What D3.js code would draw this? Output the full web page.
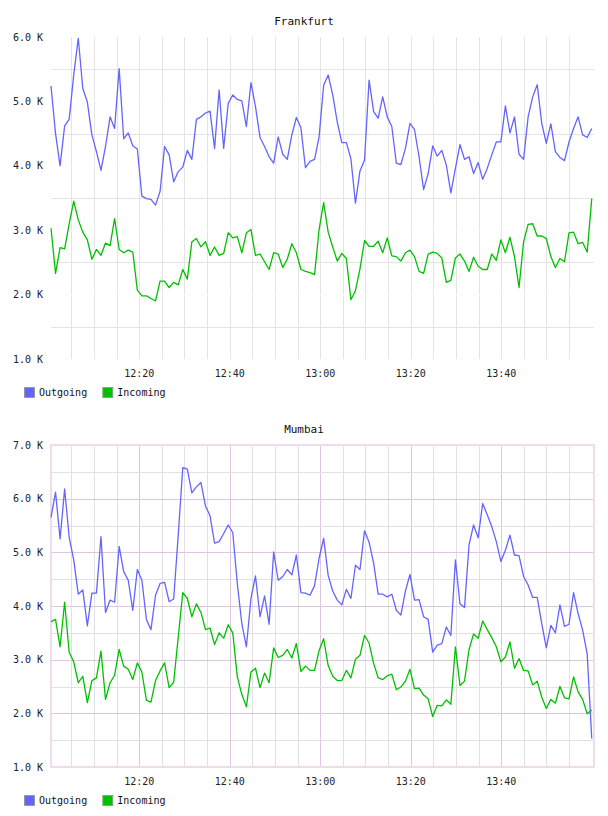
<!DOCTYPE html>
<html>
<head>
<meta charset="utf-8">
<script src="https://cdn.jsdelivr.net/npm/d3@7"></script>
<style>
    body { margin: 0; background: #fff; }
    text { font-family: "DejaVu Sans Mono", monospace; }
</style>
</head>
<body>
<div id="chart-area"></div>
<script>
// Traffic in K, one sample per minute (12:00 - 14:00)
const frankfurtOutgoing = [
    5.24, 4.50, 4.00, 4.62, 4.72, 5.41, 5.98, 5.20, 4.99, 4.48,
    4.22, 3.93, 4.30, 4.76, 4.58, 5.51, 4.42, 4.51, 4.31, 4.26,
    3.53, 3.49, 3.48, 3.39, 3.60, 4.30, 4.17, 3.75, 3.91, 3.98,
    4.24, 4.10, 4.72, 4.76, 4.82, 4.85, 4.27, 5.18, 4.27, 4.97,
    5.10, 5.03, 5.01, 4.61, 5.29, 4.92, 4.44, 4.30, 4.14, 4.04,
    4.45, 4.18, 4.10, 4.48, 4.75,
    4.59, 3.97, 4.07, 4.10, 4.45, 5.25, 5.41, 5.10, 4.68, 4.36,
    4.36, 4.11, 3.42, 3.92, 4.09, 5.33, 4.84, 4.74, 5.07, 4.76,
    4.61, 4.04, 4.02, 4.27, 4.66, 4.56, 4.14, 3.63, 3.88, 4.31,
    4.15, 4.24, 4.01, 3.58, 3.96, 4.33, 4.10, 4.14, 3.88, 4.05,
    3.79, 3.96, 4.17, 4.37, 4.37, 4.93, 4.51, 4.76, 4.18, 4.10,
    4.76, 5.07, 5.26, 4.66, 4.35, 4.65, 4.22, 4.13, 4.08, 4.37,
    4.58, 4.76, 4.48, 4.44, 4.58
];
const frankfurtIncoming = [
    3.03, 2.33, 2.73, 2.71, 3.10, 3.45, 3.16, 2.97, 2.85, 2.55,
    2.70, 2.61, 2.80, 2.76, 3.18, 2.70, 2.65, 2.69, 2.66, 2.07,
    1.98, 1.98, 1.94, 1.90, 2.21, 2.21, 2.11, 2.19, 2.15, 2.39,
    2.24, 2.82, 2.87, 2.74, 2.82, 2.61, 2.74, 2.61, 2.64, 2.96,
    2.88, 2.90, 2.65, 2.96, 3.01, 2.61, 2.63, 2.51, 2.39, 2.65,
    2.63, 2.42, 2.55, 2.79, 2.65,
    2.39, 2.36, 2.34, 2.31, 3.01, 3.43, 2.97, 2.74, 2.52, 2.64,
    2.56, 1.92, 2.06, 2.40, 2.84, 2.75, 2.75, 2.83, 2.65, 2.88,
    2.60, 2.59, 2.52, 2.65, 2.69, 2.59, 2.36, 2.33, 2.63, 2.66,
    2.64, 2.57, 2.19, 2.22, 2.57, 2.63, 2.52, 2.36, 2.58, 2.44,
    2.39, 2.39, 2.63, 2.53, 2.85, 2.65, 2.89, 2.59, 2.11, 2.82,
    3.09, 3.10, 2.91, 2.91, 2.87, 2.59, 2.42, 2.56, 2.51, 2.96,
    2.97, 2.79, 2.81, 2.66, 3.49
];
const mumbaiOutgoing = [
    5.65, 6.12, 5.25, 6.18, 5.28, 4.86, 4.22, 4.30, 3.63, 4.24,
    4.24, 5.29, 3.88, 4.11, 4.07, 5.11, 4.64, 4.48, 3.92, 4.68,
    4.48, 3.75, 3.56, 4.20, 4.42, 4.44, 4.08, 4.13, 5.32, 6.58,
    6.55, 6.11, 6.22, 6.30, 5.86, 5.68, 5.17, 5.20, 5.35, 5.51,
    5.37, 4.42, 3.67, 3.24, 4.14, 4.56, 3.80, 4.19, 3.66, 5.01,
    4.48, 4.55, 4.68, 4.58, 4.95,
    4.25, 4.24, 4.20, 4.38, 4.89, 5.26, 4.57, 4.28, 4.11, 4.02,
    4.31, 4.14, 4.76, 4.68, 5.40, 5.19, 4.80, 4.22, 4.22, 4.17,
    4.22, 3.92, 3.83, 4.28, 4.59, 4.11, 4.12, 3.80, 3.75, 3.14,
    3.27, 3.30, 3.61, 3.45, 4.86, 4.04, 3.97, 5.14, 5.51, 5.27,
    5.91, 5.70, 5.48, 5.20, 4.83, 5.04, 5.32, 4.95, 4.94, 4.55,
    4.39, 4.16, 4.16, 3.67, 3.22, 3.64, 3.50, 4.02, 3.62, 3.66,
    4.25, 3.86, 3.55, 3.11, 1.53
];
const mumbaiIncoming = [
    3.71, 3.75, 3.24, 4.07, 3.14, 2.96, 2.57, 2.69, 2.20, 2.61,
    2.66, 3.16, 2.26, 2.57, 2.71, 3.19, 2.88, 2.82, 2.63, 2.94,
    2.77, 2.24, 2.21, 2.61, 2.79, 2.94, 2.48, 2.58, 3.42, 4.25,
    4.14, 3.80, 4.04, 3.88, 3.56, 3.59, 3.28, 3.50, 3.40, 3.65,
    3.50, 2.68, 2.35, 2.12, 2.77, 2.84, 2.48, 2.75, 2.57, 3.22,
    3.04, 3.08, 3.19, 3.03, 3.30,
    2.78, 2.88, 2.80, 2.80, 3.17, 3.39, 2.89, 2.69, 2.61, 2.61,
    2.80, 2.66, 3.01, 3.08, 3.45, 3.31, 2.93, 2.66, 2.63, 2.70,
    2.73, 2.44, 2.49, 2.60, 2.82, 2.46, 2.47, 2.34, 2.27, 1.94,
    2.15, 2.14, 2.25, 2.17, 3.24, 2.52, 2.60, 3.19, 3.48, 3.40,
    3.72, 3.56, 3.41, 3.24, 2.96, 3.05, 3.33, 2.84, 3.02, 2.80,
    2.79, 2.53, 2.60, 2.30, 2.09, 2.26, 2.19, 2.50, 2.29, 2.27,
    2.68, 2.40, 2.26, 1.99, 2.06
];
const seriesNames = ["Outgoing", "Incoming"];
const seriesColors = ["#6464ff", "#00c000"];

// time window of the x axis and of the samples
const domainStart = new Date(2015, 0, 1, 12, 0, 30);
const domainEnd = new Date(2015, 0, 1, 14, 0, 30);
const sampleStart = new Date(2015, 0, 1, 12, 0, 30);
const sampleEnd = new Date(2015, 0, 1, 14, 0, 0);

let margin = {left: 51, right: 14};
let width = 608 - margin.left - margin.right;
let height = 322;

const svg = d3.select("div#chart-area").append("svg")
    .attr("width", 608)
    .attr("height", 816);

function toPoints(values) {
    const step = (sampleEnd - sampleStart) / (values.length - 1);
    return values.map((v, i) => ({t: new Date(+sampleStart + i * step), v: v}));
}

// grid: {vMajor, hMajor, minor, border}
function drawPanel(top, title, outgoing, incoming, yMax, grid) {
    const g = svg.append("g")
        .attr("transform", "translate(" + margin.left + "," + top + ")");

    const x = d3.scaleTime().domain([domainStart, domainEnd]).range([0, width]);
    const y = d3.scaleLinear().domain([1, yMax]).range([height, 0]);

    // vertical grid every 5 minutes, stronger every 20
    const minuteTicks = x.ticks(d3.timeMinute.every(5))
        .filter(t => x(t) > 4 && x(t) < width - 4);
    g.selectAll(".vgrid")
        .data(minuteTicks)
        .enter().append("line")
        .attr("x1", d => Math.round(x(d)) + 0.5)
        .attr("x2", d => Math.round(x(d)) + 0.5)
        .attr("y1", 0)
        .attr("y2", height)
        .style("stroke", d => d.getMinutes() % 20 === 0 ? grid.vMajor : grid.minor);

    // horizontal grid every 0.5 K
    const halfTicks = d3.range(2, yMax * 2).map(d => d / 2);
    g.selectAll(".hgrid")
        .data(halfTicks)
        .enter().append("line")
        .attr("x1", 0)
        .attr("x2", width)
        .attr("y1", d => Math.round(y(d)) + 0.5)
        .attr("y2", d => Math.round(y(d)) + 0.5)
        .style("stroke", d => d % 1 === 0 ? grid.hMajor : grid.minor);

    if (grid.border) {
        g.append("rect")
            .attr("x", 0).attr("y", 0)
            .attr("width", width).attr("height", height)
            .style("fill", "none")
            .style("stroke", grid.border)
            .style("stroke-width", 2);
    }

    // y labels
    g.selectAll(".ylabel")
        .data(y.ticks(yMax - 1))
        .enter().append("text")
        .attr("x", -8)
        .attr("y", d => y(d))
        .attr("dy", "0.35em")
        .attr("text-anchor", "end")
        .style("font-size", "10px")
        .style("fill", "#222")
        .text(d => d.toFixed(1) + " K");

    // x labels
    const labelTicks = x.ticks(d3.timeMinute.every(20))
        .filter(t => x(t) > 4 && x(t) < width - 4);
    g.selectAll(".xlabel")
        .data(labelTicks)
        .enter().append("text")
        .attr("x", d => x(d))
        .attr("y", height + 14.5)
        .attr("dy", "0.35em")
        .attr("text-anchor", "middle")
        .style("font-size", "10px")
        .style("fill", "#222")
        .text(d => d3.timeFormat("%H:%M")(d));

    // title
    g.append("text")
        .attr("x", 304 - margin.left)
        .attr("y", -16)
        .attr("dy", "0.35em")
        .attr("text-anchor", "middle")
        .style("font-size", "11px")
        .style("fill", "#111")
        .text(title);

    const line = d3.line()
        .x(d => x(d.t))
        .y(d => y(d.v));

    [outgoing, incoming].forEach((values, i) => {
        g.append("path")
            .datum(toPoints(values))
            .attr("d", line)
            .style("fill", "none")
            .style("stroke", seriesColors[i])
            .style("stroke-width", 1.3)
            .style("stroke-linejoin", "round");
    });

    // legend
    const legendX = [-27, 51.3];
    seriesNames.forEach((name, i) => {
        g.append("rect")
            .attr("x", legendX[i] + 0.5)
            .attr("y", height + 28.5)
            .attr("width", 10)
            .attr("height", 10)
            .style("fill", seriesColors[i])
            .style("stroke", "#999");
        g.append("text")
            .attr("x", legendX[i] + 15)
            .attr("y", height + 33.5)
            .attr("dy", "0.35em")
            .style("font-size", "10px")
            .style("fill", "#111")
            .text(name);
    });
}

drawPanel(37, "Frankfurt", frankfurtOutgoing, frankfurtIncoming, 6,
    {vMajor: "#e4e4e4", hMajor: "#ffffff", minor: "#e4e4e4", border: null});
drawPanel(445, "Mumbai", mumbaiOutgoing, mumbaiIncoming, 7,
    {vMajor: "#dec6de", hMajor: "#dec6de", minor: "#e2e0e2", border: "#ecdcec"});
</script>
</body>
</html>
